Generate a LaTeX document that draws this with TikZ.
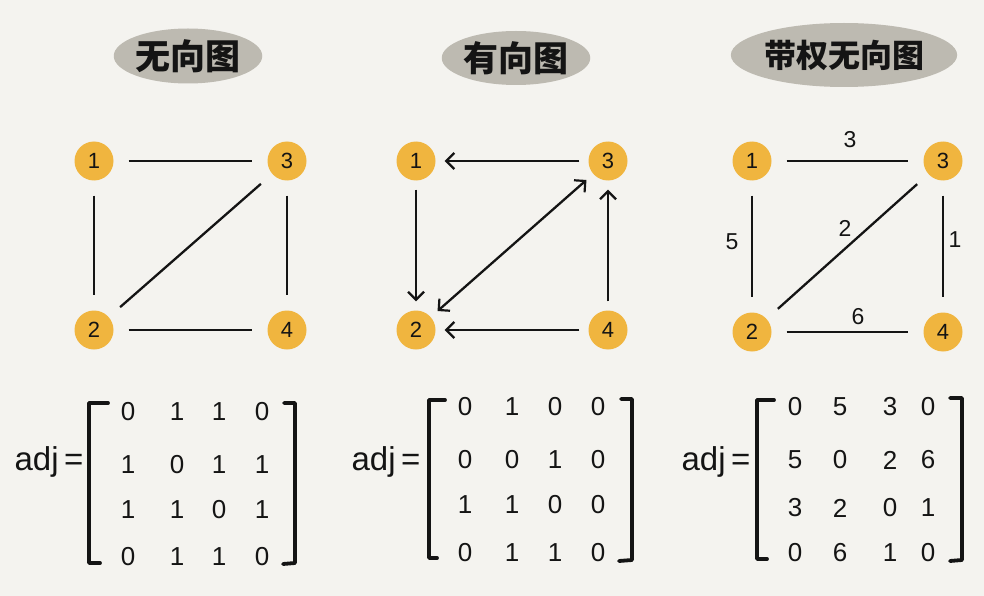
\documentclass[tikz,border=0pt]{standalone}
\usepackage{fontspec}
\setmainfont{Liberation Sans}
\newfontfamily\cjk{Noto Sans CJK SC}
\usetikzlibrary{shapes.geometric,arrows.meta}
\definecolor{bg}{HTML}{F4F3EF}
\definecolor{vert}{HTML}{F0B53F}
\definecolor{blob}{HTML}{BDBAB1}
\definecolor{ink}{HTML}{141414}
\begin{document}
\begin{tikzpicture}[x=1pt,y=-1pt,
  vtx/.style={circle, fill=vert, minimum size=39pt, inner sep=0pt, text=ink, font=\fontsize{22}{22}\selectfont},
  edge/.style={line width=2.3pt, draw=ink, shorten <=15pt, shorten >=15pt},
  dedge/.style={line width=2.3pt, draw=ink, shorten <=9pt, shorten >=9pt, -{Straight Barb[length=8pt,width=16pt,line width=2.2pt]}},
  title/.style={ellipse, fill=blob, inner sep=0pt, text=ink, font=\cjk\bfseries\fontsize{35}{35}\selectfont},
  entry/.style={inner sep=0pt, text=ink, font=\fontsize{26}{26}\selectfont},
  wlabel/.style={inner sep=0pt, text=ink, font=\fontsize{23}{23}\selectfont},
  adjtxt/.style={inner sep=0pt, text=ink, font=\fontsize{33}{33}\selectfont},
  brk/.style={line width=3.8pt, draw=ink, line cap=round, line join=round}]
\fill[bg] (0,0) rectangle (984,596);
\useasboundingbox (0,0) rectangle (984,596);

% titles
\node[title, minimum width=134pt, minimum height=55pt] (t1) at (188,56) {无向图};
\node[title, minimum width=130pt, minimum height=54pt] (t2) at (516,58) {有向图};
\node[title, minimum width=190pt, minimum height=64pt, font=\cjk\bfseries\fontsize{32}{32}\selectfont] (t3) at (844,55) {带权无向图};

% graph 1
\node[vtx] (a1) at (94,161) {1};
\node[vtx] (a3) at (287,161) {3};
\node[vtx] (a2) at (94,330) {2};
\node[vtx] (a4) at (287,330) {4};
\draw[edge] (a1) -- (a3);
\draw[edge] (a1) -- (a2);
\draw[edge] (a3) -- (a4);
\draw[edge] (a2) -- (a3);
\draw[edge] (a2) -- (a4);

% graph 2
\node[vtx] (b1) at (416,161) {1};
\node[vtx] (b3) at (608,161) {3};
\node[vtx] (b2) at (416,330) {2};
\node[vtx] (b4) at (608,330) {4};
\draw[dedge] (b3) -- (b1);
\draw[dedge] (b1) -- (b2);
\draw[dedge, {Straight Barb[length=8pt,width=16pt,line width=2.2pt]}-{Straight Barb[length=8pt,width=16pt,line width=2.2pt]}] (b2) -- (b3);
\draw[dedge] (b4) -- (b3);
\draw[dedge] (b4) -- (b2);

% graph 3
\node[vtx] (c1) at (752,161) {1};
\node[vtx] (c3) at (943,161) {3};
\node[vtx] (c2) at (752,332) {2};
\node[vtx] (c4) at (943,332) {4};
\draw[edge] (c1) -- (c3);
\draw[edge] (c1) -- (c2);
\draw[edge] (c3) -- (c4);
\draw[edge] (c2) -- (c3);
\draw[edge] (c2) -- (c4);
\node[wlabel] (w13) at (850,140) {3};
\node[wlabel] (w12) at (732,242) {5};
\node[wlabel] (w34) at (955,240) {1};
\node[wlabel] (w23) at (845,228) {2};
\node[wlabel] (w24) at (858,317) {6};

% matrix 1
\node[adjtxt] (adj1) at (49,462) {adj\,=};
\foreach \r/\y/\vals in {1/412/{0,1,1,0},2/465/{1,0,1,1},3/510/{1,1,0,1},4/557/{0,1,1,0}}{
  \foreach \v [count=\c] in \vals {
    \pgfmathsetmacro{\xx}{{128,177,219,262}[\c-1]}
    \node[entry] (m1-\r-\c) at (\xx,\y) {\v};
  }
}
\draw[brk] (108,403) -- (89,403) -- (89,563) -- (100,563);
\draw[brk] (284,403) -- (295,403) -- (295,563) -- (283,564);

% matrix 2
\node[adjtxt] (adj2) at (386,462) {adj\,=};
\foreach \r/\y/\vals in {1/407/{0,1,0,0},2/460/{0,0,1,0},3/505/{1,1,0,0},4/553/{0,1,1,0}}{
  \foreach \v [count=\c] in \vals {
    \pgfmathsetmacro{\xx}{{465,512,555,598}[\c-1]}
    \node[entry] (m2-\r-\c) at (\xx,\y) {\v};
  }
}
\draw[brk] (445,400) -- (429,400) -- (429,558) -- (437,558);
\draw[brk] (621,399) -- (632,399) -- (632,560) -- (619,561);

% matrix 3
\node[adjtxt] (adj3) at (716,462) {adj\,=};
\foreach \r/\y/\vals in {1/407/{0,5,3,0},2/460/{5,0,2,6},3/508/{3,2,0,1},4/553/{0,6,1,0}}{
  \foreach \v [count=\c] in \vals {
    \pgfmathsetmacro{\xx}{{795,840,890,928}[\c-1]}
    \node[entry] (m3-\r-\c) at (\xx,\y) {\v};
  }
}
\draw[brk] (774,400) -- (757,400) -- (757,559) -- (767,559);
\draw[brk] (950,398) -- (962,398) -- (962,560) -- (950,561);
\end{tikzpicture}
\end{document}
